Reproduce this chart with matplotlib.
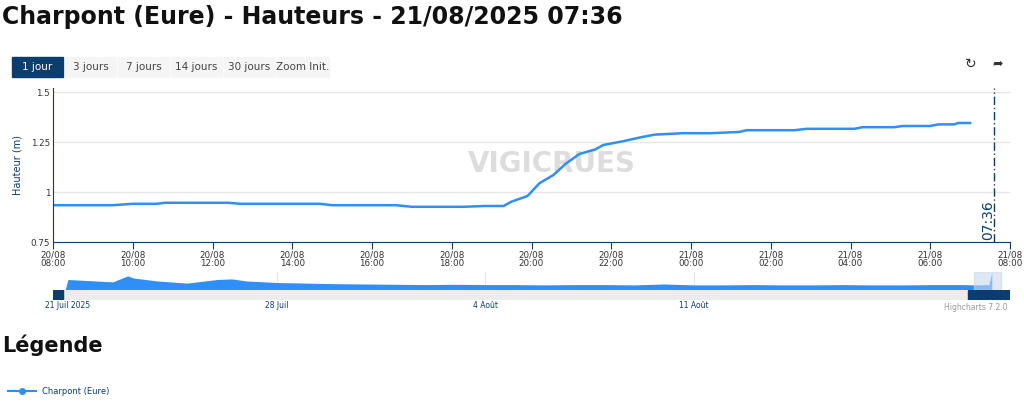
import matplotlib.pyplot as plt
from matplotlib.patches import Rectangle

# main series: hours after 20/08 08:00, height (m)
hours = [0, 1.5, 2.0, 2.6, 2.8, 4.4, 4.7, 6.7, 7.0, 8.6, 9.0, 10.3, 10.8, 11.3, 11.5,
         11.9, 12.2, 12.55, 12.85, 13.2, 13.6, 13.8, 14.3, 14.8, 15.1, 15.8, 16.5, 17.2,
         17.4, 18.6, 18.9, 20.1, 20.3, 21.1, 21.3, 22.0, 22.2, 22.6, 22.7, 23.0]
level = [0.934, 0.934, 0.941, 0.941, 0.946, 0.946, 0.941, 0.941, 0.934, 0.934, 0.926,
         0.926, 0.930, 0.930, 0.952, 0.98, 1.044, 1.085, 1.14, 1.19, 1.213, 1.235, 1.254,
         1.276, 1.287, 1.294, 1.294, 1.30, 1.309, 1.309, 1.316, 1.316, 1.324, 1.324, 1.33,
         1.33, 1.338, 1.338, 1.345, 1.345]

# navigator series: days after 21 Juil 2025, height (m)
nav_days = [-0.1, 0.0, 1.5, 2.0, 2.2, 3.0, 4.0, 5.0, 5.5, 6.0, 7.0, 8.0, 9.0, 10.0, 11.0,
            12.0, 13.0, 14.0, 15.0, 16.0, 17.0, 18.0, 19.0, 20.0, 21.0, 22.0, 23.0,
            24.0, 25.0, 26.0, 27.0, 28.0, 29.0, 30.0, 30.5, 30.9, 31.0]
nav_level = [0.75, 1.10, 1.02, 1.22, 1.15, 1.05, 0.98, 1.10, 1.12, 1.05, 1.00, 0.98,
             0.96, 0.95, 0.94, 0.93, 0.94, 0.93, 0.93, 0.92, 0.93, 0.93, 0.92, 0.95,
             0.92, 0.92, 0.93, 0.92, 0.92, 0.93, 0.92, 0.92, 0.93, 0.93, 0.92, 0.93, 1.33]

xtick_labels = ['20/08\n08:00', '20/08\n10:00', '20/08\n12:00', '20/08\n14:00', '20/08\n16:00',
                '20/08\n18:00', '20/08\n20:00', '20/08\n22:00', '21/08\n00:00', '21/08\n02:00',
                '21/08\n04:00', '21/08\n06:00', '21/08\n08:00']
nav_ticks = [0, 7, 14, 21]
nav_labels = ['21 Juil 2025', '28 Juil', '4 Août', '11 Août']

blue = '#2f8ff7'
navy = '#0b3d6e'
W, H = 1024, 403

fig = plt.figure(figsize=(10.24, 4.03), dpi=100)
fig.text(2 / W, 1 - 17 / H, 'Charpont (Eure) - Hauteurs - 21/08/2025 07:36',
         fontsize=17, fontweight='bold', va='center', color='#111')

# range buttons
btns = ['1 jour', '3 jours', '7 jours', '14 jours', '30 jours', 'Zoom Init.']
bx = [12, 65, 118, 171, 224, 277]
bw = [51, 51, 51, 51, 51, 52]
for lbl, x, w in zip(btns, bx, bw):
    sel = lbl == '1 jour'
    fig.patches.append(Rectangle((x / W, 1 - 77 / H), w / W, 20 / H, transform=fig.transFigure,
                                 color=navy if sel else '#f5f5f5'))
    fig.text((x + w / 2) / W, 1 - 67 / H, lbl, ha='center', va='center', fontsize=7.5,
             color='white' if sel else '#444')
fig.text(971 / W, 1 - 64 / H, '↻', ha='center', va='center', fontsize=10, color='#333')
fig.text(998 / W, 1 - 64 / H, '➦', ha='center', va='center', fontsize=9, color='#333')

ax = fig.add_axes([53 / W, 1 - 242 / H, 957 / W, 154 / H])
ax.plot(hours, level, color=blue, lw=1.8)
ax.set_xlim(0, 24)
ax.set_ylim(0.75, 1.52)
ax.set_yticks([0.75, 1, 1.25, 1.5])
ax.set_yticklabels(['0.75', '1', '1.25', '1.5'])
ax.set_xticks(range(0, 25, 2))
ax.set_xticklabels(xtick_labels, linespacing=1.0)
ax.tick_params(labelsize=6.3, colors='#333', length=5)
ax.tick_params(axis='x', color=navy, pad=1)
ax.tick_params(axis='y', length=0, pad=2)
ax.grid(axis='y', color='#e6e6e6', lw=1)
for s in ['top', 'right']:
    ax.spines[s].set_visible(False)
ax.spines['left'].set_color(navy)
ax.spines['bottom'].set_color(navy)
ax.set_ylabel('Hauteur (m)', fontsize=7, color=navy, labelpad=6)
ax.axvline(23.6, color=navy, lw=1, ls=(0, (6, 2, 1, 2)))
ax.text(23.45, 0.76, '07:36', rotation=90, fontsize=10, color=navy, ha='center', va='bottom')
ax.text(12.5, 1.14, 'VIGICRUES', fontsize=20, fontweight='bold', color='#dddddd',
        ha='center', va='center', zorder=0)

# navigator (pixel mapping: day 0 at x=68, 29.8 px per day)
nav = fig.add_axes([53 / W, 1 - 290 / H, 950 / W, 18 / H])
nav.fill_between(nav_days, 0.75, nav_level, color=blue, lw=0)
nav.set_xlim((53 - 68) / 29.8, (1003 - 68) / 29.8)
nav.set_ylim(0.75, 1.35)
nav.axvspan(30.4, 31.3, color='#c8d8ee', alpha=0.6)
nav.set_xticks([])
nav.set_yticks([])
for s in nav.spines.values():
    s.set_visible(False)
for d in nav_ticks[1:]:
    nav.axvline(d, color='#e6e6e6', lw=0.8, zorder=0)

sb = fig.add_axes([53 / W, 1 - 300 / H, 957 / W, 10 / H])
sb.set_xlim(0, 957)
sb.set_ylim(0, 1)
sb.axhspan(0, 1, color='#ececec')
sb.add_patch(Rectangle((0, 0), 10, 1, color=navy))
sb.add_patch(Rectangle((915, 0), 30, 1, color=navy))
sb.add_patch(Rectangle((946, 0), 11, 1, color=navy))
sb.axis('off')
for lbl, d in zip(nav_labels, nav_ticks):
    fig.text((68 + d * 29.8) / W, 1 - 306 / H, lbl, fontsize=5.5, color=navy, ha='center', va='center')
fig.text(1007 / W, 1 - 307 / H, 'Highcharts 7.2.0', fontsize=5.5, color='#999', ha='right', va='center')

fig.text(2 / W, 1 - 345 / H, 'Légende', fontsize=15, fontweight='bold', va='center', color='#111')
fig.lines.append(plt.Line2D([8 / W, 36 / W], [1 - 391 / H] * 2, transform=fig.transFigure,
                            color=blue, lw=1.5))
fig.lines.append(plt.Line2D([22 / W], [1 - 391 / H], transform=fig.transFigure,
                            color=blue, marker='o', ms=4))
fig.text(42 / W, 1 - 391 / H, 'Charpont (Eure)', fontsize=6, color=navy, va='center')

fig.savefig('out.png', dpi=100)
